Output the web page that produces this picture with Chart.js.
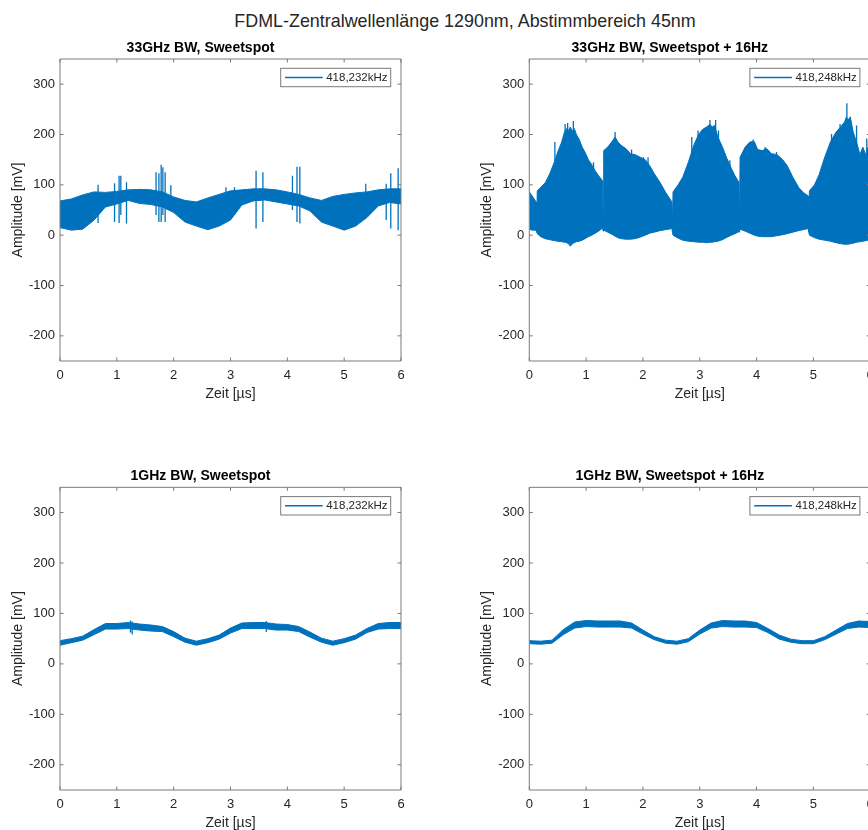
<!DOCTYPE html>
<html>
<head>
<meta charset="utf-8">
<title>FDML Zentralwellenlänge</title>
<script src="https://cdn.jsdelivr.net/npm/chart.js@4.4.1/dist/chart.umd.min.js"></script>
<style>
  body { margin: 0; width: 868px; height: 830px; overflow: hidden; position: relative; background: #fff; }
  #suptitle { position: absolute; left: 0; top: 11px; width: 930px; text-align: center;
    font: 17.9px "Liberation Sans", Arial, sans-serif; line-height: 21px; color: #262626; white-space: nowrap; }
  canvas { position: absolute; }
</style>
</head>
<body>
<div id="suptitle">FDML-Zentralwellenlänge 1290nm, Abstimmbereich 45nm</div>
<canvas id="c1" width="420" height="380" style="left:0px;top:29px"></canvas>
<canvas id="c2" width="420" height="380" style="left:460px;top:29px"></canvas>
<canvas id="c3" width="420" height="380" style="left:0px;top:457px"></canvas>
<canvas id="c4" width="420" height="380" style="left:460px;top:457px"></canvas>
<script>
// ---- data ----
var xTicks = [0, 1, 2, 3, 4, 5, 6]
var yTicks = [-200, -100, 0, 100, 200, 300]

var titles = ['33GHz BW, Sweetspot', '33GHz BW, Sweetspot + 16Hz', '1GHz BW, Sweetspot', '1GHz BW, Sweetspot + 16Hz']
var legendLabels = ['418,232kHz', '418,248kHz', '418,232kHz', '418,248kHz']

// time grid in µs
var t02 = [0, 0.2, 0.4, 0.6, 0.8, 1, 1.2, 1.4, 1.6, 1.8, 2, 2.2, 2.4, 2.6, 2.8, 3,
           3.2, 3.4, 3.6, 3.8, 4, 4.2, 4.4, 4.6, 4.8, 5, 5.2, 5.4, 5.6, 5.8, 6]

// 33GHz, sweetspot: upper / lower envelope + single spikes
var hiA = [68, 72, 80, 86, 85, 87, 90, 91, 90, 86, 76, 69, 66, 74, 81, 88,
           90, 92, 92, 90, 86, 81, 74, 69, 77, 81, 84, 86, 90, 92, 92]
var loA = [15, 10, 12, 30, 56, 62, 69, 63, 61, 56, 45, 26, 18, 11, 18, 30,
           60, 68, 70, 66, 62, 58, 48, 26, 18, 10, 18, 35, 58, 65, 62]
var spikeTA = [0.67, 0.96, 1.04, 1.07, 1.17, 1.69, 1.74, 1.78, 1.81, 1.85, 1.95,
               2.92, 3.07, 3.45, 3.57, 4.09, 4.17, 4.22, 5.38, 5.74, 5.82, 5.95]
var spikeHiA = [100, 103, 118, 118, 105, 125, 123, 140, 135, 125, 99,
                95, 95, 128, 125, 118, 136, 136, 102, 102, 123, 133]
var spikeLoA = [24, 26, 24, 40, 23, 40, 26, 26, 40, 26, 50,
                40, 40, 13, 26, 50, 26, 23, 40, 30, 13, 10]

// 33GHz, sweetspot + 16Hz (narrow notch between sweeps)
var tB = [0, 0.05, 0.12, 0.13,
          0.14, 0.2, 0.28, 0.36, 0.45, 0.5, 0.57, 0.62, 0.66, 0.7, 0.72, 0.76, 0.79, 0.83, 0.88, 0.93, 0.98, 1.04, 1.1, 1.16, 1.22, 1.29, 1.3,
          1.31, 1.38, 1.45, 1.51, 1.56, 1.62, 1.7, 1.78, 1.86, 1.95, 2.04, 2.12, 2.2, 2.3, 2.4, 2.51, 2.52,
          2.53, 2.62, 2.7, 2.8, 2.9, 2.98, 3.05, 3.12, 3.18, 3.22, 3.26, 3.32, 3.4, 3.48, 3.56, 3.62, 3.69, 3.7,
          3.71, 3.8, 3.88, 3.96, 4.02, 4.1, 4.18, 4.26, 4.36, 4.46, 4.54, 4.64, 4.74, 4.82, 4.91, 4.92,
          4.93, 5.02, 5.1, 5.2, 5.3, 5.4, 5.48, 5.55, 5.58, 5.61, 5.65, 5.7, 5.76, 5.82, 5.87, 5.92, 5.96, 6]
var hiB = [86, 78, 66, 15,
           88, 95, 104, 122, 148, 165, 185, 205, 212, 208, 215, 206, 212, 200, 190, 175, 165, 150, 140, 128, 118, 108, 20,
           168, 175, 185, 195, 185, 178, 172, 162, 160, 155, 150, 138, 122, 105, 85, 66, 20,
           86, 100, 115, 145, 180, 200, 210, 215, 220, 215, 218, 195, 175, 152, 132, 118, 105, 20,
           155, 175, 185, 186, 170, 168, 172, 162, 160, 150, 138, 115, 95, 85, 78, 20,
           88, 100, 120, 155, 185, 205, 215, 225, 235, 228, 235, 205, 185, 160, 175, 160, 175, 170]
var loB = [12, 10, 10, 6,
           3, -3, -7, -9, -11, -12, -13, -14, -15, -18, -22, -17, -15, -13, -12, -10, -7, -3, 0, 4, 8, 14, 8,
           10, 6, 2, -2, -5, -7, -8, -8, -7, -4, 0, 4, 6, 9, 11, 13, 5,
           0, -6, -10, -12, -13, -14, -14, -15, -14, -14, -13, -12, -9, -4, 0, 3, 7, 6,
           12, 8, 4, 0, -2, -3, -3, -3, -1, 1, 3, 6, 9, 11, 13, 6,
           0, -5, -8, -10, -12, -15, -17, -18, -18, -18, -17, -16, -14, -13, -12, -11, -10, -9]
// isolated peaks sticking out of the upper edge
var spikeTB = [0.45, 0.63, 0.675, 0.775, 0.8, 1.01, 1.13, 1.51, 1.68, 1.8, 2.01, 2.09, 2.86,
               2.97, 3.18, 3.28, 3.33, 3.53, 3.94, 4.15, 4.35, 5.32, 5.47, 5.59, 5.63, 5.76, 5.94]
var spikeHiB = [185, 221, 223, 227, 208, 155, 145, 205, 170, 170, 155, 155, 195,
                208, 229, 229, 208, 149, 190, 175, 165, 201, 221, 262, 231, 218, 192]
var spikeLoB = [120, 160, 160, 160, 160, 110, 100, 150, 130, 130, 110, 110, 130,
                150, 160, 160, 150, 100, 140, 130, 120, 140, 160, 180, 180, 150, 140]

// 1GHz, sweetspot
var hiC = [46, 50, 55, 68, 80, 80, 82, 79, 77, 74, 64, 51, 45, 50, 57, 71,
           81, 82, 82, 79, 78, 74, 63, 51, 45, 50, 57, 70, 80, 82, 82]
var loC = [37, 42, 47, 58, 69, 69, 70, 67, 65, 64, 54, 43, 37, 42, 49, 61,
           70, 70, 70, 67, 67, 64, 53, 43, 37, 42, 49, 62, 69, 70, 70]
var spikeTC = [1.24, 1.27, 3.63]
var spikeHiC = [86, 84, 85]
var spikeLoC = [62, 58, 63]

// 1GHz, sweetspot + 16Hz
var hiD = [46, 45, 47, 68, 83, 86, 85, 85, 85, 81, 67, 54, 47, 45, 50, 67,
           81, 86, 85, 85, 82, 70, 57, 49, 46, 46, 54, 67, 80, 85, 84]
var loD = [40, 39, 41, 58, 71, 74, 73, 73, 73, 71, 59, 48, 41, 39, 44, 59,
           71, 74, 73, 73, 72, 62, 49, 43, 40, 40, 48, 59, 70, 73, 72]

// ---- drawing ----
var blue = '#0072BD'
var textColor = '#262626'
Chart.defaults.font.family = '"Liberation Sans", Arial, sans-serif'

function bandSets(t, hi, lo) {
    return [{
        data: t.map(function (v, i) { return { x: v, y: hi[i] } }),
        borderColor: blue, borderWidth: 1, pointRadius: 0, fill: false
    }, {
        data: t.map(function (v, i) { return { x: v, y: lo[i] } }),
        borderColor: blue, borderWidth: 1, pointRadius: 0,
        fill: '-1', backgroundColor: blue
    }]
}

function spikeSet(t, hi, lo) {
    let pts = []
    for (let i = 0; i < t.length; i++) {
        pts.push({ x: t[i], y: lo[i] }, { x: t[i], y: hi[i] }, { x: t[i], y: null })
    }
    return { data: pts, borderColor: blue, borderWidth: 1.3, pointRadius: 0, fill: false }
}

// MATLAB-like box with inward ticks and a framed legend
var matlabBox = {
    id: 'matlabBox',
    afterDatasetsDraw: function (chart, args, opts) {
        var ctx = chart.ctx, a = chart.chartArea
        var xs = chart.scales.x, ys = chart.scales.y
        ctx.save()
        ctx.strokeStyle = '#7a7a7a'
        ctx.lineWidth = 1
        ctx.beginPath()
        ctx.rect(a.left, a.top, a.right - a.left, a.bottom - a.top)
        xTicks.forEach(function (v) {
            var px = xs.getPixelForValue(v)
            ctx.moveTo(px, a.bottom); ctx.lineTo(px, a.bottom - 3.5)
            ctx.moveTo(px, a.top); ctx.lineTo(px, a.top + 3.5)
        })
        yTicks.forEach(function (v) {
            var py = ys.getPixelForValue(v)
            ctx.moveTo(a.left, py); ctx.lineTo(a.left + 3.5, py)
            ctx.moveTo(a.right, py); ctx.lineTo(a.right - 3.5, py)
        })
        ctx.stroke()

        // legend
        var w = 110, h = 18.4
        var lx = a.right - 10.3 - w, ly = a.top + 9.3
        ctx.fillStyle = '#fff'
        ctx.fillRect(lx, ly, w, h)
        ctx.strokeStyle = '#7a7a7a'
        ctx.strokeRect(lx, ly, w, h)
        ctx.strokeStyle = blue
        ctx.lineWidth = 1.5
        ctx.beginPath()
        ctx.moveTo(lx + 4.3, ly + h / 2)
        ctx.lineTo(lx + 42, ly + h / 2)
        ctx.stroke()
        ctx.fillStyle = textColor
        ctx.font = '11.5px "Liberation Sans", Arial, sans-serif'
        ctx.textBaseline = 'middle'
        ctx.textAlign = 'left'
        ctx.fillText(opts.label, lx + 45.5, ly + h / 2 + 0.5)
        ctx.restore()
    }
}

function makePanel(id, idx, datasets, canvasLeft, canvasTop, plotLeft, plotTop, plotRight, plotBottom) {
    var canvas = document.getElementById(id)
    var padTop = plotTop - canvasTop - 19.1
    var padLeft = plotLeft - canvasLeft - 60
    var padRight = canvasLeft + canvas.width - plotRight
    var padBottom = canvasTop + canvas.height - plotBottom - 45
    return new Chart(canvas.getContext('2d'), {
        type: 'line',
        data: { datasets: datasets },
        plugins: [matlabBox],
        options: {
            responsive: false,
            animation: false,
            layout: { padding: { top: padTop, left: padLeft, right: padRight, bottom: padBottom } },
            plugins: {
                legend: { display: false },
                tooltip: { enabled: false },
                title: {
                    display: true, text: titles[idx], color: '#000',
                    font: { size: 14, weight: 'bold' }, padding: { top: 0, bottom: 2.3 }
                },
                matlabBox: { label: legendLabels[idx] }
            },
            scales: {
                x: {
                    type: 'linear', min: 0, max: 6,
                    afterBuildTicks: function (s) { s.ticks = xTicks.map(function (v) { return { value: v } }) },
                    afterFit: function (s) { s.height = 45 },
                    grid: { display: false, drawTicks: false }, border: { display: false },
                    ticks: { color: textColor, font: { size: 13 }, padding: 6.2, maxRotation: 0 },
                    title: { display: true, text: 'Zeit [µs]', color: textColor, font: { size: 14 }, padding: { top: 0, bottom: 3.6 } }
                },
                y: {
                    type: 'linear', min: -250, max: 350,
                    afterBuildTicks: function (s) { s.ticks = yTicks.map(function (v) { return { value: v } }) },
                    afterFit: function (s) { s.width = 60 },
                    grid: { display: false, drawTicks: false }, border: { display: false },
                    ticks: { color: textColor, font: { size: 13 }, padding: 5 },
                    title: { display: true, text: 'Amplitude [mV]', color: textColor, font: { size: 14 }, padding: { top: 9.6, bottom: 0 } }
                }
            }
        }
    })
}

makePanel('c1', 0, bandSets(t02, hiA, loA).concat([spikeSet(spikeTA, spikeHiA, spikeLoA)]), 0, 29, 60, 59, 401, 361)
makePanel('c2', 1, bandSets(tB, hiB, loB).concat([spikeSet(spikeTB, spikeHiB, spikeLoB)]), 460, 29, 529.3, 59, 870.3, 361)
makePanel('c3', 2, bandSets(t02, hiC, loC).concat([spikeSet(spikeTC, spikeHiC, spikeLoC)]), 0, 457, 60, 487.3, 401, 790)
makePanel('c4', 3, bandSets(t02, hiD, loD), 460, 457, 529.3, 487.3, 870.3, 790)
</script>
</body>
</html>
